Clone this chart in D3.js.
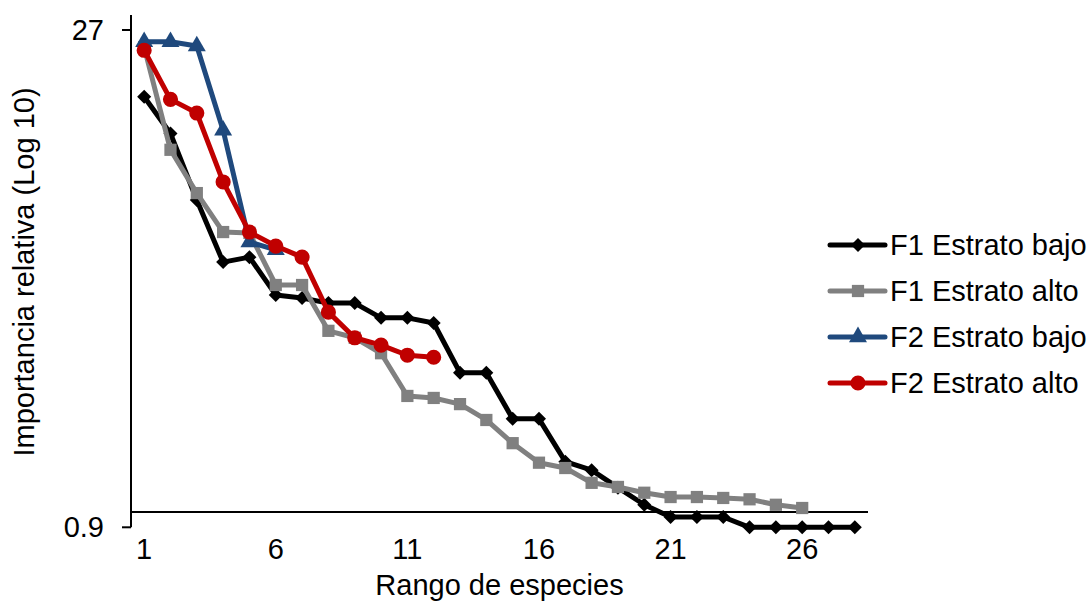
<!DOCTYPE html>
<html>
<head>
<meta charset="utf-8">
<script src="https://cdn.jsdelivr.net/npm/d3@7"></script>
<style>
  body { margin: 0; background: #fff; }
  text { font-family: "Liberation Sans", Arial, sans-serif; fill: #000; }
</style>
</head>
<body>
<div id="chart"></div>
<script>
const ranks = d3.range(1, 29);
const xTickLabels = [1, 6, 11, 16, 21, 26];
const yTickLabels = [0.9, 27];

const seriesNames = ['F1 Estrato bajo', 'F1 Estrato alto', 'F2 Estrato bajo', 'F2 Estrato alto'];

const f1Bajo = [17.1, 13.3, 8.44, 5.52, 5.71, 4.41, 4.32, 4.17, 4.17, 3.77, 3.77, 3.64, 2.59, 2.59,
  1.89, 1.89, 1.41, 1.33, 1.18, 1.05, 0.966, 0.966, 0.966, 0.9, 0.9, 0.9, 0.9, 0.9];
const f1Alto = [24.0, 11.9, 8.85, 6.78, 6.74, 4.72, 4.72, 3.45, 3.29, 2.96, 2.21, 2.18, 2.09, 1.875,
  1.60, 1.40, 1.35, 1.22, 1.186, 1.14, 1.107, 1.107, 1.10, 1.09, 1.05, 1.027];
const f2Bajo = [24.9, 24.9, 24.2, 13.6, 6.33, 6.0];
const f2Alto = [23.5, 16.8, 15.3, 9.55, 6.78, 6.16, 5.71, 3.92, 3.29, 3.13, 2.92, 2.88];

const width = 1091, height = 602;
const plotLeft = 131, plotRight = 868, plotTop = 30, plotBottom = 527.3;

const svg = d3.select('#chart')
  .append('svg')
  .attr('width', width)
  .attr('height', height);

const x = d3.scalePoint()
  .domain(ranks)
  .range([plotLeft, plotRight])
  .padding(0.5);

const y = d3.scaleLog()
  .domain([0.9, 27])
  .range([plotBottom, plotTop]);

const series = [
  { name: seriesNames[0], values: f1Bajo, color: '#000000', symbol: d3.symbolDiamond2, size: 125 },
  { name: seriesNames[1], values: f1Alto, color: '#808080', symbol: d3.symbolSquare, size: 150 },
  { name: seriesNames[2], values: f2Bajo, color: '#1F497D', symbol: d3.symbolTriangle, size: 140 },
  { name: seriesNames[3], values: f2Alto, color: '#C00000', symbol: d3.symbolCircle, size: 180 }
];

// axes: x axis crosses the log axis at 1
svg.append('line')
  .attr('x1', plotLeft).attr('x2', plotRight)
  .attr('y1', y(1)).attr('y2', y(1))
  .attr('stroke', '#000').attr('stroke-width', 2);

svg.append('line')
  .attr('x1', plotLeft).attr('x2', plotLeft)
  .attr('y1', 15).attr('y2', plotBottom)
  .attr('stroke', '#000').attr('stroke-width', 2);

svg.selectAll('.ytick')
  .data(yTickLabels)
  .enter().append('line')
  .attr('class', 'ytick')
  .attr('x1', plotLeft - 9).attr('x2', plotLeft)
  .attr('y1', d => y(d)).attr('y2', d => y(d))
  .attr('stroke', '#000').attr('stroke-width', 2);

svg.selectAll('.ylabel')
  .data(yTickLabels)
  .enter().append('text')
  .attr('class', 'ylabel')
  .attr('x', plotLeft - 27)
  .attr('y', d => y(d))
  .attr('dy', '0.35em')
  .style('text-anchor', 'end')
  .style('font-size', '29px')
  .text(d => d);

svg.selectAll('.xlabel')
  .data(xTickLabels)
  .enter().append('text')
  .attr('class', 'xlabel')
  .attr('x', d => x(d))
  .attr('y', 559)
  .style('text-anchor', 'middle')
  .style('font-size', '29px')
  .text(d => d);

svg.append('text')
  .attr('x', (plotLeft + plotRight) / 2)
  .attr('y', 595)
  .style('text-anchor', 'middle')
  .style('font-size', '29px')
  .text('Rango de especies');

svg.append('text')
  .attr('transform', 'translate(34, 272) rotate(-90)')
  .style('text-anchor', 'middle')
  .style('font-size', '29px')
  .text('Importancia relativa (Log 10)');

const line = d3.line()
  .x((d, i) => x(ranks[i]))
  .y(d => y(d));

series.forEach(s => {
  const g = svg.append('g');

  g.append('path')
    .attr('d', line(s.values))
    .attr('fill', 'none')
    .attr('stroke', s.color)
    .attr('stroke-width', 5)
    .attr('stroke-linejoin', 'round');

  g.selectAll('path.mark')
    .data(s.values)
    .enter().append('path')
    .attr('class', 'mark')
    .attr('transform', (d, i) => `translate(${x(ranks[i])},${y(d)})`)
    .attr('d', d3.symbol().type(s.symbol).size(s.size))
    .attr('fill', s.color);
});

// legend
const legend = svg.selectAll('.legend')
  .data(series)
  .enter().append('g')
  .attr('class', 'legend')
  .attr('transform', (d, i) => `translate(830, ${245 + i * 46})`);

legend.append('line')
  .attr('x1', 0).attr('x2', 55)
  .attr('stroke', d => d.color)
  .attr('stroke-width', 5)
  .attr('stroke-linecap', 'round');

legend.append('path')
  .attr('transform', 'translate(28,0)')
  .attr('d', d => d3.symbol().type(d.symbol).size(d.size)())
  .attr('fill', d => d.color);

legend.append('text')
  .attr('x', 60)
  .attr('dy', '0.35em')
  .style('font-size', '29px')
  .text(d => d.name);
</script>
</body>
</html>
